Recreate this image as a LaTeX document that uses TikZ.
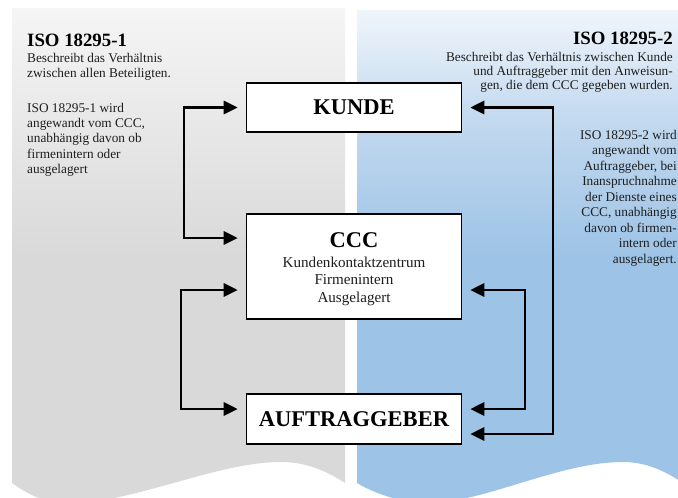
\documentclass[tikz,border=0pt]{standalone}
\usepackage{fontspec}
\setmainfont{Liberation Serif}
\usetikzlibrary{arrows.meta}
\definecolor{grayA}{HTML}{D9D9D9}
\definecolor{grayB}{HTML}{F5F5F5}
\definecolor{blueA}{HTML}{9DC3E6}
\definecolor{blueM}{HTML}{C3D9EF}
\definecolor{blueB}{HTML}{F0F5FB}
\definecolor{txt}{HTML}{1E1E1E}
\pgfdeclareverticalshading{grayshade}{100bp}{color(0bp)=(grayA); color(50bp)=(grayA); color(75bp)=(grayB); color(100bp)=(grayB)}
\pgfdeclareverticalshading{blueshade}{100bp}{color(0bp)=(blueA); color(50bp)=(blueA); color(64bp)=(blueM); color(75bp)=(blueB); color(100bp)=(blueB)}
\begin{document}
\begin{tikzpicture}[x=1pt,y=1pt,
  conn/.style={line width=2.8pt,
    {Triangle[length=14pt,width=13pt]}-{Triangle[length=14pt,width=13pt]},
    shorten <=8pt, shorten >=8pt},
  box/.style={draw, line width=1.6pt, fill=white, minimum width=215pt,
    inner sep=0pt, align=center, font=\fontsize{22.5}{24}\selectfont\bfseries},
  title/.style={inner sep=0pt, font=\fontsize{18.8}{20}\selectfont\bfseries},
  body/.style={inner sep=0pt, text=txt, font=\fontsize{13.3}{15.2}\selectfont}]
\useasboundingbox (0,0) rectangle (678,-498);
\fill[white] (0,0) rectangle (678,-498);
% panels
\shade[shading=grayshade] (12,-8) -- (345,-8) -- (345,-483)
  .. controls (322,-468) and (302,-462) .. (281,-462)
  .. controls (215,-462) and (130,-505) .. (65,-503)
  .. controls (40,-502) and (25,-492) .. (12,-483) -- cycle;
\shade[shading=blueshade] (357,-10) -- (680,-10) -- (680,-481)
  .. controls (660,-468) and (642,-462) .. (623,-462)
  .. controls (557,-462) and (480,-505) .. (424,-503)
  .. controls (397,-502) and (372,-492) .. (357,-483) -- cycle;
% boxes
\node[box, minimum height=49pt] (kunde) at (354,-107.5) {KUNDE};
\node[box, minimum height=105pt, font=\fontsize{15.1}{17.2}\selectfont] (ccc) at (354,-266.5)
  {};
\node[font=\fontsize{15.1}{17.2}\selectfont, align=center, inner sep=0pt, text=txt] (ccctext) at (354,-269)
  {{\fontsize{22.5}{24}\selectfont\bfseries\color{black} CCC}\\[3pt]Kundenkontaktzentrum\\Firmenintern\\Ausgelagert};
\node[box, minimum height=50pt] (auf) at (354,-419) {AUFTRAGGEBER};
% bracket positions
\coordinate (l1) at (184,0);
\coordinate (l2) at (181,0);
\coordinate (r1) at (553,0);
\coordinate (r2) at (525,0);
% connectors
\draw[conn] (kunde.west) -- (kunde.west -| l1) |- ([yshift=28.5pt]ccc.west);
\draw[conn] ([yshift=-23.5pt]ccc.west) -- ([yshift=-23.5pt]ccc.west -| l2) |- ([yshift=10pt]auf.west);
\draw[conn] (kunde.east) -- (kunde.east -| r1) |- ([yshift=-15pt]auf.east);
\draw[conn] ([yshift=-23.5pt]ccc.east) -- ([yshift=-23.5pt]ccc.east -| r2) |- ([yshift=10pt]auf.east);
% texts left
\node[title, anchor=base west] (t1) at (27,-46) {ISO 18295-1};
\node[body, anchor=north west, align=left] (p1) at (27,-53)
  {Beschreibt das Verhältnis\\zwischen allen Beteiligten.};
\node[body, anchor=north west, align=left] (p2) at (27,-103)
  {ISO 18295-1 wird\\angewandt vom CCC,\\unabhängig davon ob\\firmenintern oder\\ausgelagert};
% texts right
\node[title, anchor=base east] (t2) at (673,-44) {ISO 18295-2};
\node[body, anchor=north east, align=right, font=\fontsize{13.3}{13.8}\selectfont] (p3) at (673,-52)
  {Beschreibt das Verhältnis zwischen Kunde\\und Auftraggeber mit den Anweisun-\\gen, die dem CCC gegeben wurden.};
\node[body, anchor=north east, align=right, font=\fontsize{13.3}{15.5}\selectfont] (p4) at (677,-130)
  {ISO 18295-2 wird\\angewandt vom\\Auftraggeber, bei\\Inanspruchnahme\\der Dienste eines\\CCC, unabhängig\\davon ob firmen-\\intern oder\\ausgelagert.};
\end{tikzpicture}
\end{document}
